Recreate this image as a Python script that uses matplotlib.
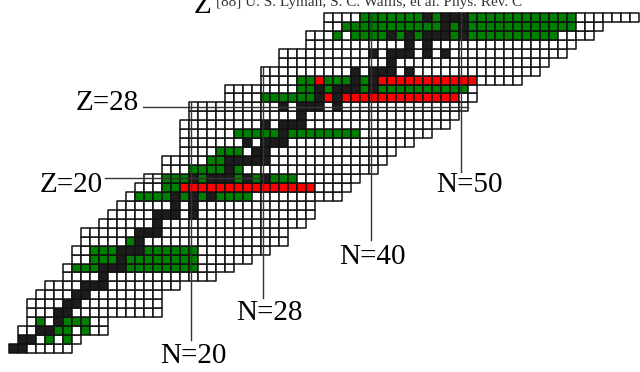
import matplotlib
matplotlib.use('Agg')
import matplotlib.pyplot as plt
from matplotlib.patches import Rectangle
from matplotlib.collections import PatchCollection

# one row of the chart per proton number Z, cells run from n_first to n_last
z_values = list(range(1, 39))
n_first = [0, 1, 1, 2, 2, 2, 3, 4, 6, 6, 7, 7, 8, 8, 10, 11, 12, 13, 14, 15,
           17, 17, 19, 19, 19, 19, 20, 20, 24, 24, 28, 28, 30, 30, 33, 33, 35, 35]
n_last = [6, 7, 10, 10, 16, 16, 16, 18, 22, 24, 26, 28, 30, 30, 32, 33, 33, 36, 37, 38,
          40, 41, 42, 44, 46, 48, 49, 50, 51, 51, 56, 58, 59, 61, 62, 64, 65, 69]

# stable isotopes (black)
stable_n = {
    1: [0, 1], 2: [1, 2], 3: [3, 4], 4: [5], 5: [5, 6], 6: [6, 7], 7: [7, 8],
    8: [8, 9, 10], 9: [10], 10: [10, 11, 12], 11: [12], 12: [12, 13, 14],
    13: [14], 14: [14, 15, 16], 15: [16], 16: [16, 17, 18, 20], 17: [18, 20],
    18: [18, 20, 22], 19: [20, 21, 22], 20: [20, 22, 23, 24, 26, 28], 21: [24],
    22: [24, 25, 26, 27, 28], 23: [27, 28], 24: [26, 28, 29, 30], 25: [30],
    26: [28, 30, 31, 32], 27: [32], 28: [30, 32, 33, 34, 36], 29: [34, 36],
    30: [34, 36, 37, 38, 40], 31: [38, 40], 32: [38, 40, 41, 42, 44], 33: [42],
    34: [40, 42, 43, 44, 46, 48], 35: [44, 46], 36: [42, 44, 46, 47, 48, 50],
    37: [48, 50], 38: [46, 48, 49, 50],
}

# previously measured (green), runs of N
green_runs = {
    2: [(4, 4), (6, 6)], 3: [(5, 6), (8, 8)], 4: [(3, 3), (6, 8)],
    10: [(7, 9), (13, 20)], 11: [(9, 11), (13, 20)], 12: [(9, 11), (15, 20)],
    13: [(13, 13)], 18: [(14, 17), (19, 19), (21, 21), (23, 26)],
    19: [(17, 18)], 20: [(17, 19), (21, 21), (25, 25), (27, 27), (29, 31)],
    21: [(20, 23), (25, 25)], 22: [(22, 23)], 23: [(23, 25)],
    25: [(25, 29), (31, 38)], 29: [(28, 33)],
    30: [(32, 33), (35, 35), (39, 39), (41, 50)],
    31: [(32, 33), (35, 37), (39, 39)],
    36: [(36, 36), (38, 60)], 37: [(37, 62)], 38: [(39, 62)],
}

# this work (red)
red_runs = {19: [(19, 33)], 29: [(35, 35), (37, 49)], 31: [(34, 34), (41, 51)]}

magic_z = [20, 28]
magic_n = [20, 28, 40, 50]
z_line_n = [(10.7, 28.0), (14.9, 51.0)]
n_line_z = [(1.45, 27.9), (6.1, 31.9), (12.6, 38.0), (20.2, 38.0)]
z_label_xy = [(71, 185), (107, 103)]
n_label_xy = [(193, 356), (269, 313), (372, 257), (469, 185)]

W, H = 640, 372
BLACK = '#1c1c1c'
GREEN = '#008000'
RED = '#ff0000'


def in_runs(n, runs):
    return any(a <= n <= b for a, b in runs)


def cell_colour(z, n):
    if in_runs(n, red_runs.get(z, [])):
        return RED
    if n in stable_n.get(z, []):
        return BLACK
    if in_runs(n, green_runs.get(z, [])):
        return GREEN
    return 'white'


def fig_xy(x, y):
    return x / W, 1 - y / H


fig = plt.figure(figsize=(W / 100, H / 100), dpi=100)
ax = fig.add_axes([0, 0, 1, 1])
ax.set_xlim(-1, 631 / 9)
ax.set_ylim(-19 / 8.95, 353 / 8.95)
ax.axis('off')

cells, colours = [], []
for z, a, b in zip(z_values, n_first, n_last):
    for n in range(a, b + 1):
        cells.append(Rectangle((n, z - 1), 1, 1))
        colours.append(cell_colour(z, n))
ax.add_collection(PatchCollection(cells, facecolors=colours, edgecolors='#111111',
                                  linewidths=1.1))

for z, (n0, n1) in zip(magic_z, z_line_n):
    ax.plot([n0, n1], [z - 0.5, z - 0.5], color='#333333', lw=1.0)
for n, (z0, z1) in zip(magic_n, n_line_z):
    ax.plot([n + 0.2, n + 0.2], [z0, z1], color='#333333', lw=1.0)

font = dict(family='Liberation Serif', fontsize=21, color='black',
            ha='center', va='center')
for z, (x, y) in zip(magic_z, z_label_xy):
    fig.text(*fig_xy(x, y), f'Z={z}', **font)
for n, (x, y) in zip(magic_n, n_label_xy):
    fig.text(*fig_xy(x, y), f'N={n}', **font)

# page text cut off at the top of the figure
fig.text(*fig_xy(194, 13), 'Z', family='Liberation Serif', fontsize=21,
         ha='left', va='baseline')
fig.text(*fig_xy(216, 6), '[88] U. S. Lyman, S. C. Wallis, et al. Phys. Rev. C',
         family='Liberation Serif', fontsize=11, color='#333333',
         ha='left', va='baseline')

fig.savefig('out.png', dpi=100)
